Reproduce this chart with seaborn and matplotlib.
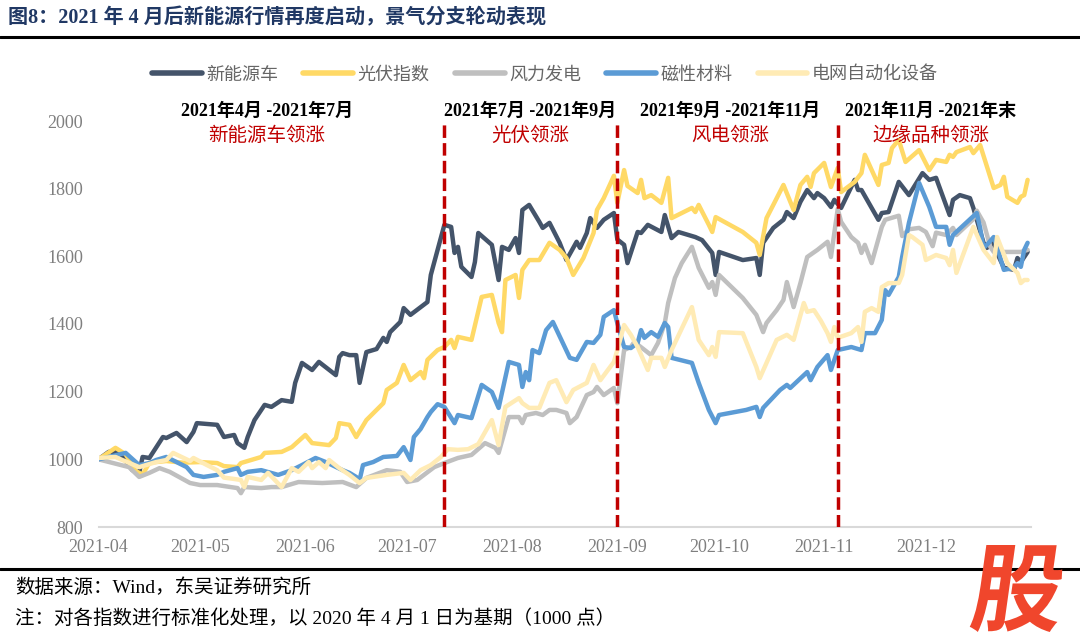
import matplotlib
matplotlib.use("Agg")
import numpy as np
import pandas as pd
import matplotlib.pyplot as plt
from matplotlib.lines import Line2D
from matplotlib.textpath import TextPath
from matplotlib.patches import PathPatch
from matplotlib.font_manager import FontProperties
from matplotlib.transforms import Affine2D
import seaborn as sns

# 数据：距 2021-04-01 的天数 与 标准化指数值
start = pd.Timestamp("2021-04-01")

series_names = ["新能源车", "光伏指数", "风力发电", "磁性材料", "电网自动化设备"]
series_colors = ["#44546A", "#FFD966", "#BFBFBF", "#5B9BD5", "#FFEBB5"]

nev_day = [0, 3, 6, 10, 12, 13, 15, 19, 20, 23, 26, 28, 29, 35, 37, 40, 41, 43, 44, 46,
           49, 51, 54, 57, 58, 60, 63, 65, 70, 71, 72, 74, 76, 77, 79, 82, 84, 85, 86, 89,
           90, 92, 97, 98, 102, 104, 105, 106, 107, 110, 111, 112, 116, 118, 119, 121, 123, 124, 125, 127,
           130, 131, 133, 136, 138, 141, 142, 144, 145, 147, 149, 152, 153, 155, 156, 159, 160, 162, 166, 167,
           169, 171, 176, 178, 181, 182, 183, 190, 194, 195, 196, 199, 202, 203, 205, 207, 209, 211, 212, 214,
           216, 217, 219, 223, 224, 225, 230, 231, 233, 236, 239, 243, 245, 247, 251, 252, 254, 257, 258, 261,
           262, 264, 265, 267, 270, 271, 272, 274]
nev_val = [1000, 1022, 1022, 968, 960, 1007, 1004, 1066, 1063, 1078, 1051, 1081, 1107, 1102, 1066, 1072, 1048, 1034, 1066, 1116,
           1161, 1155, 1175, 1170, 1226, 1285, 1264, 1288, 1249, 1303, 1314, 1308, 1308, 1226, 1317, 1326, 1359, 1347, 1376, 1406,
           1447, 1427, 1465, 1545, 1693, 1687, 1610, 1628, 1569, 1539, 1583, 1669, 1634, 1530, 1628, 1619, 1654, 1610, 1737, 1752,
           1702, 1684, 1699, 1640, 1589, 1643, 1625, 1669, 1713, 1684, 1708, 1728, 1650, 1634, 1580, 1672, 1669, 1693, 1672, 1722,
           1654, 1672, 1657, 1648, 1610, 1545, 1613, 1589, 1595, 1545, 1640, 1684, 1708, 1731, 1713, 1761, 1796, 1772, 1787, 1772,
           1746, 1767, 1743, 1826, 1796, 1796, 1708, 1728, 1731, 1820, 1781, 1846, 1826, 1832, 1722, 1767, 1781, 1772, 1743, 1640,
           1625, 1640, 1610, 1566, 1560, 1595, 1583, 1613]

pv_day = [0, 5, 8, 11, 13, 15, 20, 25, 30, 35, 37, 41, 42, 45, 48, 49, 54, 57, 61, 63,
          68, 70, 71, 74, 76, 79, 84, 85, 88, 90, 92, 95, 96, 97, 100, 102, 104, 105, 106, 110,
          113, 116, 118, 119, 120, 123, 124, 125, 127, 130, 133, 136, 138, 140, 143, 146, 147, 149, 152, 153,
          155, 156, 159, 160, 161, 163, 166, 168, 169, 175, 176, 177, 180, 181, 182, 190, 194, 195, 197, 199,
          202, 205, 207, 209, 210, 211, 214, 216, 218, 219, 223, 225, 226, 230, 231, 233, 234, 236, 238, 242,
          245, 247, 250, 251, 252, 253, 257, 258, 260, 264, 266, 267, 268, 271, 272, 273, 274]
pv_val = [1000, 1034, 1015, 965, 955, 990, 995, 990, 992, 989, 980, 977, 989, 998, 1007, 1019, 1022, 1036, 1072, 1048,
          1042, 1063, 1107, 1102, 1066, 1116, 1166, 1205, 1226, 1279, 1234, 1258, 1240, 1294, 1323, 1332, 1353, 1329, 1362, 1353,
          1480, 1486, 1403, 1376, 1530, 1545, 1477, 1560, 1589, 1589, 1640, 1619, 1595, 1545, 1595, 1669, 1737, 1772, 1838, 1758,
          1855, 1808, 1787, 1826, 1772, 1781, 1758, 1832, 1713, 1743, 1731, 1752, 1693, 1672, 1716, 1672, 1640, 1604, 1713, 1752,
          1811, 1737, 1811, 1835, 1805, 1846, 1876, 1805, 1861, 1790, 1820, 1846, 1900, 1811, 1870, 1876, 1920, 1944, 1879, 1914,
          1855, 1885, 1879, 1900, 1894, 1908, 1923, 1905, 1929, 1802, 1811, 1835, 1776, 1758, 1776, 1781, 1826]

wind_day = [0, 9, 12, 15, 18, 21, 27, 30, 35, 41, 42, 43, 48, 51, 54, 59, 66, 72, 76, 79,
            85, 89, 91, 94, 99, 102, 106, 110, 114, 117, 118, 121, 124, 125, 126, 129, 131, 133, 135, 138,
            139, 141, 144, 146, 147, 149, 152, 153, 155, 157, 158, 163, 165, 167, 168, 170, 172, 175, 177, 180,
            181, 182, 183, 190, 194, 196, 197, 200, 202, 203, 205, 207, 209, 212, 215, 216, 218, 219, 222, 224,
            225, 226, 228, 231, 232, 236, 237, 239, 242, 244, 246, 247, 250, 252, 253, 258, 259, 261, 263, 264,
            268, 272, 274]
wind_val = [1000, 977, 948, 960, 974, 963, 930, 924, 924, 915, 900, 918, 915, 918, 918, 933, 930, 933, 918, 945,
            968, 963, 933, 939, 977, 989, 1004, 1013, 1048, 1034, 1019, 1125, 1125, 1107, 1131, 1137, 1131, 1146, 1146, 1137,
            1107, 1125, 1190, 1199, 1214, 1190, 1211, 1166, 1323, 1332, 1347, 1308, 1344, 1403, 1462, 1536, 1580, 1628, 1566, 1507,
            1524, 1486, 1545, 1477, 1427, 1376, 1403, 1441, 1471, 1524, 1450, 1521, 1598, 1619, 1643, 1598, 1740, 1702, 1657, 1640,
            1610, 1634, 1580, 1687, 1708, 1720, 1660, 1680, 1684, 1672, 1630, 1670, 1663, 1684, 1663, 1710, 1735, 1700, 1628, 1613,
            1613, 1613, 1619]

mag_day = [0, 8, 12, 15, 17, 20, 23, 26, 28, 31, 35, 37, 41, 42, 44, 48, 53, 57, 60, 64,
           67, 72, 74, 76, 77, 78, 81, 84, 88, 90, 92, 93, 95, 97, 98, 100, 102, 105, 106, 110,
           113, 116, 118, 121, 124, 125, 126, 127, 128, 130, 132, 134, 139, 141, 144, 146, 148, 149, 152, 153,
           155, 157, 159, 160, 161, 163, 165, 167, 168, 169, 175, 177, 180, 182, 183, 191, 194, 195, 196, 201,
           203, 204, 209, 210, 212, 215, 216, 218, 222, 225, 226, 229, 231, 232, 233, 236, 237, 239, 242, 245,
           247, 250, 251, 252, 259, 260, 261, 262, 264, 265, 267, 270, 271, 272, 273, 274]
mag_val = [1000, 1019, 983, 989, 998, 1007, 992, 977, 954, 948, 954, 963, 974, 954, 963, 968, 954, 968, 983, 1004,
           992, 968, 960, 948, 939, 983, 992, 1007, 1010, 1036, 998, 1066, 1090, 1125, 1140, 1163, 1155, 1107, 1131, 1122,
           1220, 1199, 1152, 1288, 1279, 1214, 1258, 1234, 1323, 1314, 1382, 1406, 1300, 1294, 1347, 1344, 1368, 1421, 1441, 1403,
           1332, 1329, 1344, 1382, 1359, 1376, 1362, 1403, 1391, 1300, 1285, 1226, 1146, 1107, 1131, 1146, 1155, 1125, 1152, 1205,
           1220, 1211, 1258, 1234, 1273, 1308, 1264, 1323, 1332, 1323, 1373, 1373, 1412, 1500, 1486, 1539, 1598, 1699, 1817, 1746,
           1687, 1687, 1634, 1663, 1728, 1684, 1625, 1634, 1657, 1628, 1560, 1566, 1580, 1569, 1619, 1640]

grid_day = [0, 5, 7, 12, 14, 17, 20, 22, 27, 28, 32, 35, 37, 40, 42, 43, 44, 48, 50, 52,
            54, 57, 59, 62, 63, 65, 67, 68, 71, 74, 77, 79, 85, 90, 92, 95, 98, 101, 103, 106,
            109, 112, 116, 118, 120, 124, 125, 127, 130, 133, 135, 138, 140, 144, 146, 148, 152, 153, 155, 157,
            159, 162, 163, 166, 167, 169, 175, 177, 180, 181, 182, 183, 190, 194, 195, 197, 200, 203, 205, 208,
            209, 211, 213, 215, 216, 217, 218, 222, 224, 225, 226, 228, 230, 231, 233, 236, 237, 239, 240, 243,
            244, 247, 250, 251, 252, 253, 258, 261, 264, 265, 268, 271, 272, 273, 274]
grid_val = [1004, 1007, 998, 977, 983, 992, 998, 1019, 995, 1004, 983, 968, 946, 942, 939, 918, 948, 939, 960, 939,
            918, 974, 963, 992, 974, 992, 974, 998, 974, 954, 930, 945, 954, 960, 939, 968, 983, 1007, 1030, 1028,
            1030, 1045, 1116, 1042, 1155, 1181, 1166, 1152, 1152, 1226, 1234, 1169, 1205, 1226, 1279, 1234, 1288, 1323, 1397, 1368,
            1332, 1264, 1300, 1300, 1273, 1323, 1450, 1353, 1308, 1332, 1303, 1376, 1373, 1273, 1240, 1285, 1353, 1368, 1353, 1462,
            1436, 1441, 1410, 1373, 1347, 1391, 1359, 1373, 1391, 1347, 1436, 1447, 1436, 1509, 1521, 1521, 1545, 1663, 1657, 1634,
            1589, 1604, 1595, 1574, 1619, 1551, 1687, 1619, 1580, 1657, 1580, 1551, 1521, 1530, 1530]

month_labels = ["2021-04", "2021-05", "2021-06", "2021-07", "2021-08",
                "2021-09", "2021-10", "2021-11", "2021-12", ""]
month_starts = ["2021-04-01", "2021-05-01", "2021-06-01", "2021-07-01", "2021-08-01",
                "2021-09-01", "2021-10-01", "2021-11-01", "2021-12-01", "2022-01-01"]
y_ticks = [800, 1000, 1200, 1400, 1600, 1800, 2000]

split_dates = ["2021-07-12", "2021-09-01", "2021-11-05"]
period_titles = ["2021年4月 -2021年7月", "2021年7月 -2021年9月",
                 "2021年9月 -2021年11月", "2021年11月 -2021年末"]
period_notes = ["新能源车领涨", "光伏领涨", "风电领涨", "边缘品种领涨"]

title = "图8：2021 年 4 月后新能源行情再度启动，景气分支轮动表现"
source = "数据来源：Wind，东吴证券研究所"
note = "注：对各指数进行标准化处理，以 2020 年 4 月 1 日为基期（1000 点）"

# 整理成长表
days_list = [nev_day, pv_day, wind_day, mag_day, grid_day]
vals_list = [nev_val, pv_val, wind_val, mag_val, grid_val]
frames = []
for name, d, v in zip(series_names, days_list, vals_list):
    frames.append(pd.DataFrame({"date": start + pd.to_timedelta(d, unit="D"),
                                "value": v, "series": name}))
df = pd.concat(frames, ignore_index=True)

sns.set_style("white")
plt.rcParams['font.family'] = ['Liberation Serif', 'Noto Sans CJK SC', 'DejaVu Sans']

W, H = 1080, 637
fig = plt.figure(figsize=(W / 100, H / 100), dpi=100)
ax = fig.add_axes([98.5 / W, 1 - 527 / H, (1031 - 98.5) / W, (527 - 121) / H])

sns.lineplot(data=df, x="date", y="value", hue="series", hue_order=series_names,
             palette=series_colors, estimator=None, sort=False, lw=3.2, legend=False, ax=ax)

for d in split_dates:
    ax.axvline(pd.Timestamp(d), ymin=0, ymax=1.0, color="#C00000", lw=2.5,
               dashes=(3.6, 1.5), zorder=5)

ax.set_xlim(pd.Timestamp(month_starts[0]), pd.Timestamp(month_starts[-1]))
ax.set_ylim(800, 2000)
ax.set_xticks(pd.to_datetime(month_starts))
ax.set_xticklabels(month_labels)
ax.set_yticks(y_ticks)
ax.set_yticklabels([str(t) for t in y_ticks])
ax.set_xlabel("")
ax.set_ylabel("")

for s in ["top", "right", "left"]:
    ax.spines[s].set_visible(False)
ax.spines["bottom"].set_color("#D9D9D9")
ax.spines["bottom"].set_linewidth(1.5)
ax.tick_params(axis="x", length=5, width=1, color="#D9D9D9", pad=4,
               labelsize=13, labelcolor="#7F7F7F")
ax.tick_params(axis="y", length=0, pad=11, labelsize=13, labelcolor="#7F7F7F")


def fx(x, y):
    return x / W, 1 - y / H


# 图例
handles = [Line2D([0], [0], color=c, lw=4) for c in series_colors]
fig.legend(handles, series_names, loc="center", bbox_to_anchor=fx(545, 75), ncol=5,
           frameon=False, fontsize=13, handlelength=2.75, handletextpad=0.25,
           columnspacing=1.4, labelcolor="#666666")

# 阶段标注
title_x = [267, 530, 730, 931]
for tx, t, n in zip(title_x, period_titles, period_notes):
    fig.text(*fx(tx, 111), t, ha="center", va="center", fontsize=13,
             fontweight="bold", color="black")
    fig.text(*fx(tx, 136), n, ha="center", va="center", fontsize=14, color="#C00000")

# 标题与脚注
fig.text(*fx(8, 18), title, ha="left", va="center", fontsize=14.5,
         fontweight="bold", color="#203864")
fig.add_artist(Line2D([0, 1], [1 - 36.5 / H] * 2, color="black", lw=2.2,
                      transform=fig.transFigure))
fig.add_artist(Line2D([0, 1], [1 - 569 / H] * 2, color="black", lw=2.2,
                      transform=fig.transFigure))
fig.text(*fx(15, 588), source, ha="left", va="center", fontsize=14, color="black")
fig.text(*fx(15, 619), note, ha="left", va="center", fontsize=14, color="black")

# 右下角水印
fp = FontProperties(family="Noto Sans CJK SC", weight="bold")
tp = TextPath((0, 0), "股", size=100, prop=fp)
ext = tp.get_extents()
bw, bh = 87, 87
sx, sy = bw / ext.width, bh / ext.height
trans = (Affine2D().translate(-ext.x0, -ext.y0).scale(sx, sy).skew_deg(8, 0)
         .translate(975 - 6, H - 632).scale(1 / 100) + fig.dpi_scale_trans)
fig.add_artist(PathPatch(tp, transform=trans, color="#F0462C", lw=0, zorder=10))

fig.savefig("out.png", dpi=100)
